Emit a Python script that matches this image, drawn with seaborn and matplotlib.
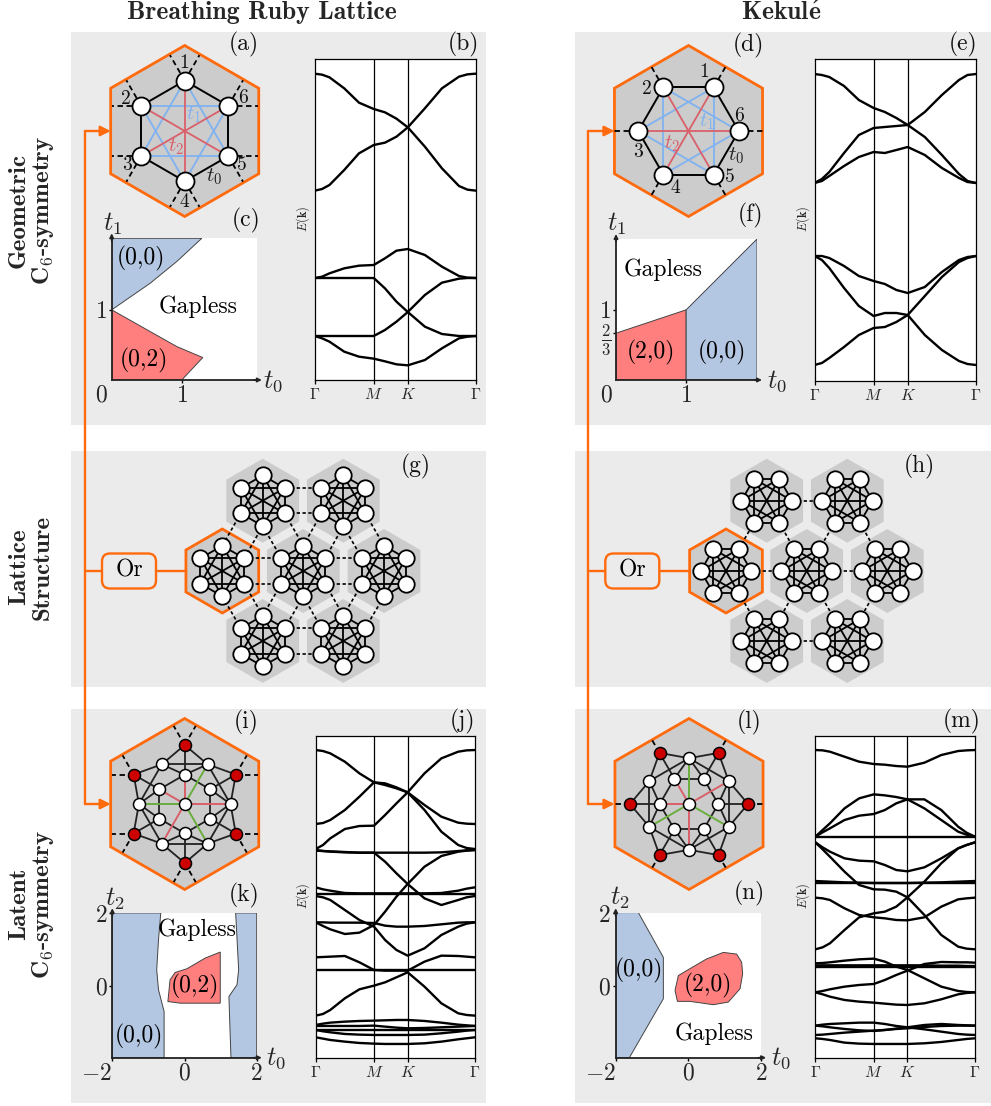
import matplotlib
matplotlib.use('Agg')
import matplotlib.pyplot as plt
from matplotlib.patches import FancyBboxPatch, Rectangle
import numpy as np
import pandas as pd
import seaborn as sns

W, H = 991, 1106
ORANGE = '#FF6A0D'
PANEL = '#EBEBEB'
CELL = '#CCCCCC'
BLUE = '#B3C7E3'
RED = '#FF7F7F'
LBLUE = '#7FB2F0'
LRED = '#D9606A'
GREEN = '#6AAE3E'

sns.set_theme(style='white')
plt.rcParams['font.family'] = ['cmr10', 'DejaVu Serif']
plt.rcParams['mathtext.fontset'] = 'cm'
plt.rcParams['axes.unicode_minus'] = False
plt.rcParams['axes.formatter.use_mathtext'] = True

# momentum samples along Gamma-M-K-Gamma (M=1, K=1.577, end=2.732)
k_samples = [0, 0.125, 0.25, 0.5, 0.75, 1.0, 1.19, 1.385, 1.577, 1.866, 2.155, 2.444, 2.588, 2.732]
k_ticks = [0, 1.0, 1.577, 2.732]
k_labels = [r'$\Gamma$', r'$M$', r'$K$', r'$\Gamma$']

bands_b = [
    [101, 104, 112, 145, 188, 207, 217, 236, 262, 320, 385, 438, 449, 452],
    [452, 447, 435, 390, 340, 315, 308, 290, 262, 205, 145, 110, 103, 101],
    [714, 710, 700, 685, 677, 675, 655, 632, 627, 645, 680, 708, 713, 714],
    [714, 714, 714, 714, 714, 714, 745, 785, 816, 860, 882, 888, 888, 888],
    [888, 888, 888, 888, 888, 888, 870, 845, 816, 765, 728, 716, 714, 714],
    [888, 895, 905, 935, 950, 956, 964, 973, 976, 960, 925, 895, 890, 888],
]
bands_e = [
    [74, 75, 77, 86, 100, 108, 112, 118, 125, 112, 95, 80, 75, 74],
    [183, 179, 172, 153, 135, 128, 127, 126, 125, 137, 155, 174, 181, 183],
    [183, 181, 176, 166, 157, 152, 153, 150, 147, 155, 168, 178, 182, 183],
    [256, 256, 258, 266, 276, 281, 284, 290, 293, 287, 272, 260, 257, 256],
    [256, 260, 268, 288, 306, 316, 313, 313, 315, 335, 350, 361, 364, 365],
    [365, 363, 358, 347, 335, 328, 327, 322, 315, 296, 277, 262, 258, 256],
]
bands_j = [
    [60, 63, 70, 95, 130, 157, 165, 175, 187, 225, 260, 278, 281, 282],
    [282, 279, 270, 240, 200, 157, 160, 172, 187, 130, 85, 65, 61, 60],
    [357, 345, 325, 297, 288, 287, 255, 220, 187, 240, 305, 345, 354, 357],
    [360, 363, 365, 367, 368, 368, 395, 430, 462, 505, 525, 510, 502, 498],
    [362, 363, 364, 366, 368, 368, 368, 368, 368, 368, 367, 363, 361, 360],
    [472, 478, 482, 489, 490, 490, 490, 490, 490, 490, 489, 482, 476, 472],
    [577, 588, 598, 612, 608, 585, 545, 500, 462, 410, 378, 365, 362, 360],
    [498, 502, 510, 540, 570, 590, 630, 660, 677, 655, 615, 590, 581, 577],
    [577, 577, 578, 578, 578, 579, 587, 590, 590, 588, 583, 578, 577, 577],
    [492, 492, 492, 492, 492, 492, 492, 492, 492, 492, 492, 492, 492, 492],
    [682, 681, 680, 678, 697, 720, 722, 722, 722, 695, 677, 678, 680, 682],
    [720, 720, 720, 720, 720, 720, 720, 720, 720, 720, 720, 720, 720, 720],
    [857, 852, 840, 805, 778, 767, 757, 742, 727, 770, 820, 850, 855, 857],
    [885, 881, 878, 875, 873, 872, 871, 870, 870, 873, 878, 884, 886, 888],
    [888, 888, 888, 888, 888, 887, 890, 893, 895, 894, 892, 890, 889, 888],
    [900, 900, 900, 900, 900, 900, 900, 900, 900, 900, 900, 900, 900, 900],
    [900, 904, 907, 912, 914, 915, 915, 915, 915, 914, 910, 905, 902, 900],
    [922, 926, 930, 935, 939, 941, 942, 942, 942, 940, 935, 928, 925, 922],
]
bands_m = [
    [60, 61, 65, 80, 95, 102, 104, 108, 110, 98, 75, 63, 61, 60],
    [320, 300, 280, 235, 205, 193, 196, 201, 208, 235, 270, 305, 314, 320],
    [320, 307, 295, 270, 257, 252, 240, 220, 208, 208, 240, 290, 308, 320],
    [320, 320, 320, 320, 320, 320, 320, 320, 320, 320, 320, 320, 320, 320],
    [337, 352, 365, 385, 392, 394, 405, 420, 424, 412, 385, 355, 345, 337],
    [337, 358, 380, 425, 465, 478, 479, 485, 502, 555, 615, 650, 656, 658],
    [658, 652, 640, 600, 562, 550, 545, 530, 502, 455, 400, 355, 345, 337],
    [453, 454, 455, 457, 458, 459, 459, 459, 459, 458, 457, 455, 454, 453],
    [460, 460, 460, 460, 460, 460, 460, 460, 460, 460, 460, 460, 460, 460],
    [503, 505, 510, 535, 555, 562, 565, 570, 571, 562, 530, 508, 505, 503],
    [700, 699, 697, 692, 688, 686, 695, 710, 720, 745, 770, 783, 786, 787],
    [787, 783, 778, 770, 765, 762, 750, 735, 722, 702, 696, 697, 697, 698],
    [706, 706, 706, 706, 706, 706, 706, 706, 706, 706, 707, 707, 708, 708],
    [712, 712, 712, 712, 712, 712, 712, 712, 712, 712, 712, 712, 712, 712],
    [787, 793, 800, 810, 815, 818, 821, 824, 825, 820, 808, 793, 789, 787],
    [887, 884, 882, 880, 878, 878, 882, 888, 892, 885, 882, 885, 886, 887],
    [887, 889, 892, 897, 901, 903, 900, 896, 892, 898, 905, 912, 914, 915],
    [915, 914, 912, 908, 905, 902, 900, 897, 895, 891, 888, 887, 887, 887],
    [925, 927, 930, 938, 941, 942, 942, 942, 942, 940, 936, 930, 927, 925],
]

# phase diagram regions
c_blue_t0 = [0, 0.55, 0.93, 1.286, 0]
c_blue_t1 = [1, 1.38, 1.69, 2.02, 2.02]
c_red_t0 = [0, 0.55, 0.93, 1.3, 1, 0]
c_red_t1 = [1, 0.69, 0.476, 0.32, 0, 0]
f_red_t0 = [0, 1, 1, 0]
f_red_t1 = [0.667, 1, 0, 0]
f_blue_t0 = [1, 2.01, 2.01, 1]
f_blue_t1 = [1, 2.01, 0, 0]
k_left_t0 = [-2, -0.657, -0.72, -0.77, -0.72, -0.565, -0.565, -2]
k_left_t2 = [2.01, 2.01, 1.27, 0.435, -0.12, -0.72, -2, -2]
k_right_t0 = [2, 1.417, 1.5, 1.454, 1.23, 1.287, 2]
k_right_t2 = [2.01, 2.01, 0.435, 0.02, -0.306, -2, -2]
k_red_t0 = [0.99, 0.574, 0.065, -0.26, -0.4, -0.46, -0.12, 0.435, 0.99]
k_red_t2 = [0.926, 0.76, 0.463, 0.36, 0.157, -0.444, -0.49, -0.49, -0.49]
n_blue_t0 = [-2, -1.376, -0.688, -0.688, -1.624, -2]
n_blue_t2 = [2.02, 2.02, 0.78, -0.367, -2, -2]
n_red_t0 = [1.468, 1.33, 0.963, 0.5, -0.046, -0.275, -0.367, -0.3, 0.046, 0.688, 1.1, 1.422, 1.495]
n_red_t2 = [0.642, 0.87, 0.917, 0.734, 0.413, 0.275, -0.138, -0.44, -0.44, -0.532, -0.459, -0.092, 0.321]


def px_axes(fig, left, top, right, bottom, **kw):
    return fig.add_axes([left / W, 1 - bottom / H, (right - left) / W, (bottom - top) / H], **kw)


def pol(cx, cy, r, deg):
    a = np.radians(deg)
    return cx + r * np.cos(a), cy - r * np.sin(a)


def hexagon(ax, cx, cy, r, edge=None, lw=2.0):
    pts = [pol(cx, cy, r, 90 + 60 * i) for i in range(6)]
    ax.fill([p[0] for p in pts], [p[1] for p in pts], fc=CELL,
            ec=edge if edge else 'none', lw=lw, zorder=1, joinstyle='miter')


def sites(ax, pts, r, fc='white', lw=1.3):
    size = (2 * r * 0.72) ** 2
    ax.scatter([p[0] for p in pts], [p[1] for p in pts], s=size, c=fc, edgecolors='black',
               linewidths=lw, zorder=4)


def link(ax, p, q, color='black', lw=1.4, ls='-'):
    ax.plot([p[0], q[0]], [p[1], q[1]], color=color, lw=lw, ls=ls, zorder=3, solid_capstyle='round')


def geometric(ax, cx, cy, start, double_dash):
    hexagon(ax, cx, cy, 85.5, ORANGE)
    pts = [pol(cx, cy, 50.3, start + 60 * i) for i in range(6)]
    for i in range(6):
        link(ax, pts[i], pts[(i + 2) % 6], LBLUE, 1.3)
    for i in range(3):
        link(ax, pts[i], pts[i + 3], LRED, 1.3)
    for i in range(6):
        link(ax, pts[i], pts[(i + 1) % 6], 'black', 1.4)
        ang = start + 60 * i
        if double_dash:
            for d in (-30, 30):
                e = pol(pts[i][0], pts[i][1], 29.5, ang + d)
                link(ax, pts[i], e, 'black', 1.3, (0, (3, 2)))
        else:
            e = pol(pts[i][0], pts[i][1], 24, ang)
            link(ax, pts[i], e, 'black', 1.3, (0, (3, 2)))
    sites(ax, pts, 9)


def lattice(ax, centers, start, first_edge, limit):
    all_pts = []
    for n, (cx, cy) in enumerate(centers):
        hexagon(ax, cx, cy, 42, ORANGE if n == first_edge else None)
        pts = [pol(cx, cy, 25.3, start + 60 * i) for i in range(6)]
        all_pts.append(pts)
        for i in range(6):
            for j in range(i + 1, 6):
                link(ax, pts[i], pts[j], 'black', 1.3)
    for a in range(len(all_pts)):
        for b in range(a + 1, len(all_pts)):
            for p in all_pts[a]:
                for q in all_pts[b]:
                    if np.hypot(p[0] - q[0], p[1] - q[1]) < limit:
                        link(ax, p, q, 'black', 1.2, (0, (2, 1.5)))
    for pts in all_pts:
        sites(ax, pts, 8.2)


def latent(ax, cx, cy, start, double_dash):
    # start: angle of the red sites, outer ring is offset by 30 degrees
    hexagon(ax, cx, cy, 85.5, ORANGE)
    red = [pol(cx, cy, 59, start + 60 * i) for i in range(6)]
    inner = [pol(cx, cy, 29.3, start + 60 * i) for i in range(6)]
    outer = [pol(cx, cy, 45.8, start + 30 + 60 * i) for i in range(6)]
    for i in range(6):
        link(ax, outer[i], outer[(i + 1) % 6], '#222222', 1.3)
        link(ax, inner[i], inner[(i + 1) % 6], '#222222', 1.3)
        link(ax, red[i], inner[i], '#222222', 1.3)
        link(ax, red[i], outer[i], '#222222', 1.3)
        link(ax, red[i], outer[i - 1], '#222222', 1.3)
        ang = start + 60 * i
        if double_dash:
            for d in (-30, 30):
                e = pol(red[i][0], red[i][1], 22, ang + d)
                link(ax, red[i], e, 'black', 1.3, (0, (3, 2)))
        else:
            e = pol(red[i][0], red[i][1], 15, ang)
            link(ax, red[i], e, 'black', 1.3, (0, (3, 2)))
    for i, o in ((0, 0), (0, 5), (1, 1), (2, 1), (3, 2), (3, 3), (4, 4), (5, 4)):
        link(ax, inner[i], outer[o], '#222222', 1.3)
    c = (cx, cy)
    for idx in (1, 3, 5):
        link(ax, c, outer[idx], GREEN, 1.4)
    if double_dash:
        red_targets = [outer[4], outer[2], inner[0], inner[1]]
    else:
        red_targets = [outer[0], outer[4], inner[2], inner[3]]
    for q in red_targets:
        link(ax, c, q, LRED, 1.4)
    sites(ax, inner + outer + [c], 6, lw=1.1)
    sites(ax, red, 6, fc='#CC0000', lw=1.1)


def band_panel(fig, box, bands, base, span, label_xy):
    ax = px_axes(fig, *box)
    rows = [(b, k, base - v) for b, vals in enumerate(bands) for k, v in zip(k_samples, vals)]
    df = pd.DataFrame(rows, columns=['band', 'k', 'E'])
    sns.lineplot(data=df, x='k', y='E', units='band', estimator=None, color='black', lw=1.7,
                 legend=False, ax=ax)
    ax.set_xlim(k_samples[0], k_samples[-1])
    ax.set_ylim(0, span)
    ax.set_xlabel('')
    ax.set_ylabel('')
    ax.set_yticks([])
    ax.set_xticks(k_ticks, k_labels, fontsize=11.5)
    ax.tick_params(axis='x', length=3, width=0.9, pad=2, bottom=True, color='black')
    for v in k_ticks[1:3]:
        ax.axvline(v, color='black', lw=0.9)
    for s in ax.spines.values():
        s.set_color('black')
        s.set_linewidth(0.9)
    ax.set_facecolor('white')
    top.text(label_xy[0], label_xy[1], r'$E(\mathbf{k})$', rotation=90, fontsize=9, ha='center', va='center')
    return ax


def phase_panel(fig, box, xlim, ylim, xticks, xlabels, yticks, ylabels, regions):
    ax = px_axes(fig, *box)
    ax.set_facecolor('white')
    for xs, ys, fc in regions:
        ax.fill(xs, ys, fc=fc, ec='#444444', lw=0.7, zorder=1)
    ax.set_xlim(*xlim)
    ax.set_ylim(*ylim)
    ax.set_xticks(xticks, xlabels, fontsize=17)
    ax.set_yticks(yticks, ylabels, fontsize=17)
    ax.tick_params(axis='both', length=2.5, width=1, pad=1, bottom=True, left=True, color='black')
    for name in ('top', 'right'):
        ax.spines[name].set_visible(False)
    for name in ('left', 'bottom'):
        ax.spines[name].set_color('#222222')
        ax.spines[name].set_linewidth(1.3)
        ax.spines[name].set_zorder(5)
    ax.annotate('', xy=(1.035, 0), xytext=(0.98, 0), xycoords='axes fraction',
                arrowprops=dict(arrowstyle='-|>', color='#222222', lw=1.2, mutation_scale=6, shrinkA=0, shrinkB=0))
    ax.annotate('', xy=(0, 1.035), xytext=(0, 0.98), xycoords='axes fraction',
                arrowprops=dict(arrowstyle='-|>', color='#222222', lw=1.2, mutation_scale=6, shrinkA=0, shrinkB=0))
    return ax


fig = plt.figure(figsize=(W / 100, H / 100), dpi=100, facecolor='white')

back = fig.add_axes([0, 0, 1, 1], zorder=-1)
back.set_xlim(0, W)
back.set_ylim(H, 0)
back.axis('off')
for x0, x1 in ((71, 486), (575, 991)):
    for y0, y1 in ((32, 425), (451, 687), (709, 1103)):
        back.add_patch(Rectangle((x0, y0), x1 - x0, y1 - y0, fc=PANEL, ec='none'))

top = fig.add_axes([0, 0, 1, 1], zorder=10)
top.set_xlim(0, W)
top.set_ylim(H, 0)
top.axis('off')
top.patch.set_alpha(0)

# titles and row labels
top.text(262, 13, 'Breathing Ruby Lattice', family='cmb10', fontsize=18.5, ha='center', va='center')
top.text(781, 13, r'$\mathbf{Kekul\acute{e}}$', fontsize=18.5, ha='center', va='center')
for y, a, b in ((210, 'Geometric', r'$\mathbf{C}_{\mathbf{6}}$-symmetry'),
                (567, 'Lattice', 'Structure'),
                (904, 'Latent', r'$\mathbf{C}_{\mathbf{6}}$-symmetry')):
    top.text(19, y, a, family='cmb10', fontsize=18, rotation=90, ha='center', va='center')
    top.text(43, y, b, family='cmb10', fontsize=18, rotation=90, ha='center', va='center')

# orange connectors
for xv, xhex, boxl in ((85, 110.7, 102), (588, 614.5, 605.3)):
    top.plot([xv, xv], [131, 804], color=ORANGE, lw=1.7, zorder=2)
    for y in (131, 804):
        top.annotate('', xy=(xhex, y), xytext=(xv, y),
                     arrowprops=dict(arrowstyle='-|>', color=ORANGE, lw=1.7, mutation_scale=15, shrinkA=0, shrinkB=0))
    top.plot([xv, boxl], [571, 571], color=ORANGE, lw=1.7, zorder=2)
    top.plot([boxl + 54, boxl + 84], [571, 571], color=ORANGE, lw=1.7, zorder=2)
    top.add_patch(FancyBboxPatch((boxl, 553.5), 54, 35, boxstyle='round,pad=0,rounding_size=8',
                                 fc=PANEL, ec=ORANGE, lw=1.7, zorder=3))
    top.text(boxl + 27, 570, 'Or', fontsize=17, ha='center', va='center', zorder=5, color='black')

# unit cell sketches
geometric(top, 184.7, 131, 90, True)
geometric(top, 688.5, 131, 0, False)
latent(top, 184.7, 804, 90, True)
latent(top, 689, 804, 0, False)

cells_g = [(222.3, 571), (262.7, 500.7), (343.3, 500.7), (303.3, 571), (384, 571), (262.7, 641), (343.3, 641)]
cells_h = [(726, 571), (766.7, 500.7), (847.3, 500.7), (806.7, 571), (887.3, 571), (766.7, 641), (847.3, 641)]
lattice(top, cells_g, 90, 0, 40)
lattice(top, cells_h, 0, 0, 35)

site_text = [
    ('1', 184.3, 63.5), ('2', 126, 99), ('3', 126.7, 165), ('4', 184.3, 201.7), ('5', 241.7, 165), ('6', 243.3, 98.5),
    ('1', 704, 71.7), ('2', 647, 89), ('3', 638, 151.7), ('4', 675, 188), ('5', 730, 176.7), ('6', 739, 115.7),
]
for s, x, y in site_text:
    top.text(x, y, s, fontsize=14, ha='center', va='center', zorder=6, color='#111111')
for s, x, y, c in ((r'$t_1$', 194, 115, LBLUE), (r'$t_2$', 176, 147, LRED), (r'$t_0$', 214, 176.7, '#222222'),
                   (r'$t_1$', 706.7, 121.7, LBLUE), (r'$t_2$', 671.7, 143.7, LRED), (r'$t_0$', 736, 156, '#222222')):
    top.text(x, y, s, fontsize=15, color=c, ha='center', va='center', zorder=6)

panel_text = [
    ('(a)', 244, 44), ('(b)', 463, 44), ('(c)', 246, 220), ('(d)', 748, 45), ('(e)', 963, 44), ('(f)', 750, 215),
    ('(g)', 416, 466), ('(h)', 919, 466), ('(i)', 245.7, 722), ('(j)', 463, 721), ('(k)', 244, 895),
    ('(l)', 749, 722), ('(m)', 962, 721), ('(n)', 749, 893),
]
for s, x, y in panel_text:
    top.text(x, y, s, fontsize=17, ha='center', va='center', color='#111111')

# band structures
band_panel(fig, (314.7, 59, 476, 380), bands_b, 1020, 963, (303, 219))
band_panel(fig, (814.5, 59, 976, 381), bands_e, 381, 322, (803, 219))
band_panel(fig, (315.7, 735.7, 475, 1058.3), bands_j, 985, 968, (303, 896))
band_panel(fig, (815.3, 735.7, 975, 1058.3), bands_m, 985, 968, (803, 896))

# phase diagrams
ax_c = phase_panel(fig, (111.7, 238.3, 256.7, 380), (0, 2.07), (0, 2.02), [1], ['$1$'], [1], ['$1$'],
                   [(c_blue_t0, c_blue_t1, BLUE), (c_red_t0, c_red_t1, RED)])
ax_f = phase_panel(fig, (616, 239, 757, 380), (0, 2.01), (0, 2.01), [1], ['$1$'], [0.667, 1],
                   [r'$\frac{2}{3}$', '$1$'], [(f_red_t0, f_red_t1, RED), (f_blue_t0, f_blue_t1, BLUE)])
ax_k = phase_panel(fig, (112.3, 913.3, 256.7, 1057.7), (-2, 2), (-2, 2), [-2, 0, 2], ['$-2$', '$0$', '$2$'],
                   [0, 2], ['$0$', '$2$'],
                   [(k_left_t0, k_left_t2, BLUE), (k_right_t0, k_right_t2, BLUE), (k_red_t0, k_red_t2, RED)])
ax_n = phase_panel(fig, (615.7, 913.3, 761, 1057.7), (-2, 2), (-2, 2), [-2, 0, 2], ['$-2$', '$0$', '$2$'],
                   [0, 2], ['$0$', '$2$'], [(n_blue_t0, n_blue_t2, BLUE), (n_red_t0, n_red_t2, RED)])
for ax in (ax_k, ax_n):
    ax.get_xticklabels()[0].set_ha('right')

phase_text = [
    ('(0,0)', 140.7, 258.3), ('Gapless', 198, 307), ('(0,2)', 144, 360),
    ('Gapless', 663, 270), ('(2,0)', 651, 352), ('(0,0)', 722, 352),
    ('Gapless', 196.7, 930), ('(0,2)', 195, 986), ('(0,0)', 139, 1036),
    ('(0,0)', 639.3, 970), ('(2,0)', 707.7, 985), ('Gapless', 714, 1034),
]
for s, x, y in phase_text:
    top.text(x, y, s, fontsize=17, ha='center', va='center', zorder=6, color='black')

axis_text = [
    ('$0$', 101, 395), ('$0$', 606, 395),
    (r'$t_1$', 113, 224), (r'$t_0$', 273.3, 381), (r'$t_1$', 617, 224), (r'$t_0$', 777, 381),
    (r'$t_2$', 115, 899), (r'$t_0$', 276, 1058), (r'$t_2$', 620, 898), (r'$t_0$', 780.7, 1058),
]
for s, x, y in axis_text:
    top.text(x, y, s, fontsize=19 if 't' in s else 17, ha='center', va='center', zorder=6)

fig.savefig('out.png', dpi=100)
